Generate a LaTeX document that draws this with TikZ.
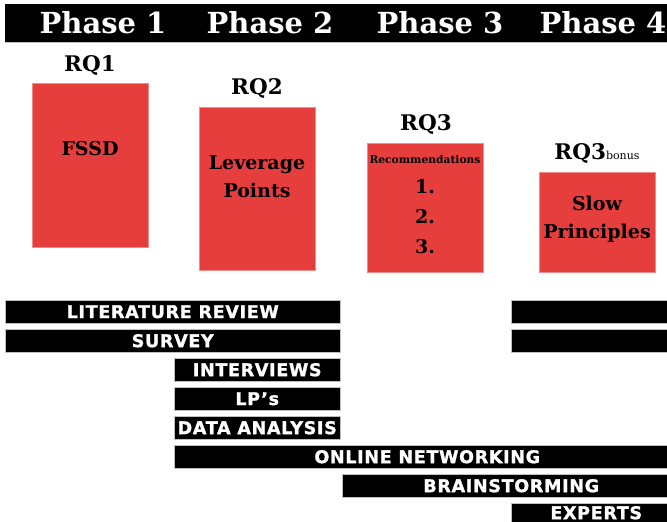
\documentclass[tikz,border=0pt]{standalone}
\usepackage{fontspec}
\setmainfont{DejaVu Serif}
\newfontfamily\barfont{DejaVu Sans}[LetterSpace=4,BoldFeatures={FakeBold=1.5}]
\usetikzlibrary{positioning}
\definecolor{myred}{RGB}{230,61,61}
\definecolor{mygray}{gray}{0.75}
\begin{document}
\begin{tikzpicture}[x=1pt,y=-1pt,
every node/.style={inner sep=0pt},
phase/.style={white,font=\bfseries\fontsize{29}{32}\selectfont},
rq/.style={font=\bfseries\fontsize{21.5}{24}\selectfont},
redbox/.style={fill=myred,draw=myred!60!white,line width=0.6pt,anchor=north west},
boxtext/.style={font=\bfseries\fontsize{19}{22}\selectfont,align=center},
task/.style={fill=black,draw=mygray,line width=0.5pt,anchor=north west,
  minimum height=23pt,text=white,font=\barfont\bfseries\fontsize{17.5}{19}\selectfont}]
\clip (0,0) rectangle (667,522);
% header with the four phases
\node[fill=black,anchor=north west,minimum width=680pt,minimum height=38pt] (header) at (5,4) {};
\draw[mygray] (header.south west) -- (header.south east);
\node[phase] (ph1) at (103,23) {Phase 1};
\node[phase] (ph2) at (270,23) {Phase 2};
\node[phase] (ph3) at (440,23) {Phase 3};
\node[phase] (ph4) at (603,23) {Phase 4};
% research questions
\node[rq] (rq1) at (90,65) {RQ1};
\node[redbox,minimum width=116pt,minimum height=164pt] (box1) at (32,83) {};
\node[boxtext] (fssd) at (90,149) {FSSD};
\node[rq] (rq2) at (257,88) {RQ2};
\node[redbox,minimum width=116pt,minimum height=163pt] (box2) at (199,107) {};
\node[boxtext] (lp) at (257,177) {Leverage\\[6pt]Points};
\node[rq] (rq3) at (426,124) {RQ3};
\node[redbox,minimum width=116pt,minimum height=129pt] (box3) at (367,143) {};
\node[font=\bfseries\fontsize{10.7}{12}\selectfont] (recom) at (425,160) {Recommendations};
\node[boxtext] (r1) at (425,187) {1.};
\node[boxtext] (r2) at (425,217) {2.};
\node[boxtext] (r3) at (425,247) {3.};
\node[rq] (rq3b) at (597,153) {RQ3{\mdseries\fontsize{11}{12}\selectfont bonus}};
\node[redbox,minimum width=116pt,minimum height=100pt] (box4) at (539,172) {};
\node[boxtext] (slow) at (597,219) {Slow\\[6pt]Principles};
% activities
\node[task,minimum width=335pt] (litrev) at (5,300) {LITERATURE REVIEW};
\node[task,minimum width=170pt] (litrev2) at (511,300) {};
\node[task,minimum width=335pt] (survey) at (5,329) {SURVEY};
\node[task,minimum width=170pt] (survey2) at (511,329) {};
\node[task,minimum width=166pt] (interv) at (174,358) {INTERVIEWS};
\node[task,minimum width=166pt] (lps) at (174,387) {LP’s};
\node[task,minimum width=166pt] (data) at (174,416) {DATA ANALYSIS};
\node[task,minimum width=506pt] (online) at (174,445) {ONLINE NETWORKING};
\node[task,minimum width=338pt] (brain) at (342,474) {BRAINSTORMING};
\node[task,minimum width=170pt,minimum height=19pt] (experts) at (511,503) {EXPERTS};
\end{tikzpicture}
\end{document}
